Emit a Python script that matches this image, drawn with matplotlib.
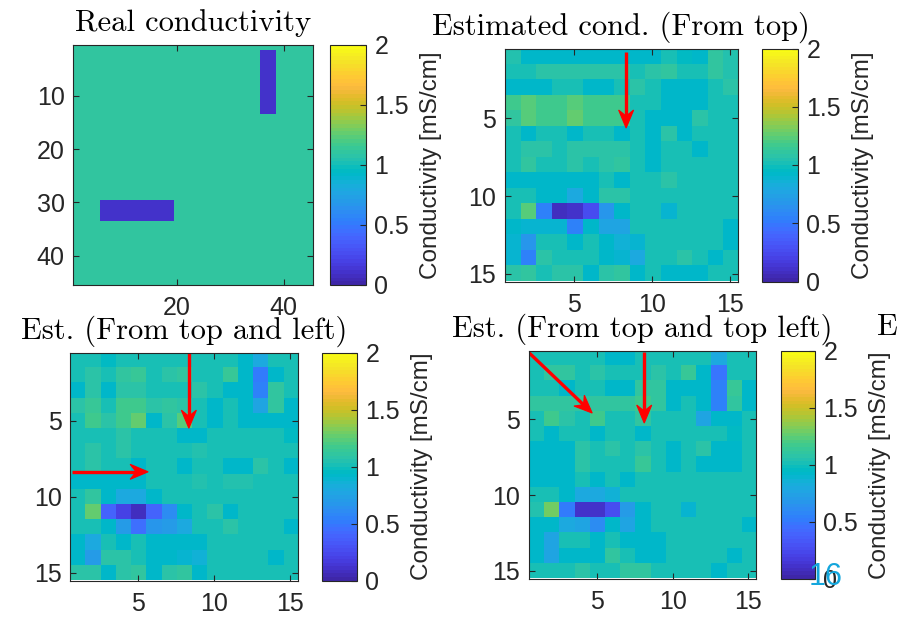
import numpy as np
import matplotlib
matplotlib.use("Agg")
import matplotlib.pyplot as plt
from matplotlib.colors import ListedColormap
from matplotlib.patches import Polygon

# MATLAB parula (R2017a), 64 entries
parula_rgb = [
    [0.2422, 0.1504, 0.6603], [0.2504, 0.1650, 0.7076], [0.2578, 0.1818, 0.7511], [0.2647, 0.1978, 0.7952],
    [0.2706, 0.2147, 0.8364], [0.2751, 0.2342, 0.8710], [0.2783, 0.2559, 0.8991], [0.2803, 0.2782, 0.9221],
    [0.2813, 0.3006, 0.9414], [0.2810, 0.3228, 0.9579], [0.2795, 0.3447, 0.9717], [0.2760, 0.3667, 0.9829],
    [0.2699, 0.3892, 0.9906], [0.2602, 0.4123, 0.9952], [0.2440, 0.4358, 0.9988], [0.2206, 0.4603, 0.9973],
    [0.1963, 0.4847, 0.9892], [0.1834, 0.5074, 0.9798], [0.1786, 0.5289, 0.9682], [0.1764, 0.5499, 0.9520],
    [0.1687, 0.5703, 0.9359], [0.1540, 0.5902, 0.9218], [0.1460, 0.6091, 0.9079], [0.1380, 0.6276, 0.8973],
    [0.1248, 0.6459, 0.8883], [0.1113, 0.6635, 0.8763], [0.0952, 0.6798, 0.8598], [0.0689, 0.6948, 0.8394],
    [0.0297, 0.7082, 0.8163], [0.0036, 0.7203, 0.7917], [0.0067, 0.7312, 0.7660], [0.0433, 0.7411, 0.7394],
    [0.0964, 0.7500, 0.7120], [0.1408, 0.7584, 0.6842], [0.1717, 0.7670, 0.6554], [0.1938, 0.7758, 0.6251],
    [0.2161, 0.7843, 0.5923], [0.2470, 0.7918, 0.5567], [0.2906, 0.7973, 0.5188], [0.3406, 0.8008, 0.4789],
    [0.3909, 0.8029, 0.4354], [0.4456, 0.8024, 0.3909], [0.5044, 0.7993, 0.3480], [0.5616, 0.7942, 0.3045],
    [0.6174, 0.7876, 0.2612], [0.6720, 0.7793, 0.2227], [0.7242, 0.7698, 0.1910], [0.7738, 0.7598, 0.1646],
    [0.8203, 0.7498, 0.1535], [0.8634, 0.7406, 0.1596], [0.9035, 0.7330, 0.1774], [0.9393, 0.7288, 0.2100],
    [0.9728, 0.7298, 0.2394], [0.9956, 0.7434, 0.2371], [0.9970, 0.7659, 0.2199], [0.9952, 0.7893, 0.2028],
    [0.9892, 0.8136, 0.1885], [0.9786, 0.8386, 0.1766], [0.9676, 0.8639, 0.1643], [0.9610, 0.8890, 0.1537],
    [0.9597, 0.9135, 0.1423], [0.9628, 0.9373, 0.1265], [0.9691, 0.9606, 0.1064], [0.9769, 0.9839, 0.0805],
]
parula = ListedColormap(parula_rgb, name="parula")

# real conductivity: 45x45 grid, background plus two inclusions (rows, cols, 1-based inclusive)
real_size = 45
real_background = 1.12
inclusion_value = 0.1
inclusions = [((30, 33), (6, 19)), ((2, 13), (36, 38))]

# estimates on a 15x15 grid [mS/cm]
est_top = [
    [1.05, 0.93, 0.93, 0.93, 0.93, 0.93, 0.93, 0.93, 0.93, 0.93, 1.02, 0.96, 0.92, 1.10, 1.05],
    [1.03, 1.03, 1.07, 1.07, 1.07, 1.07, 1.07, 1.07, 1.03, 1.07, 1.10, 1.03, 1.03, 1.10, 1.05],
    [0.93, 0.93, 0.93, 1.03, 1.03, 0.93, 0.93, 1.03, 1.07, 1.03, 0.93, 0.91, 0.91, 1.03, 1.07],
    [1.18, 1.22, 1.18, 1.18, 1.22, 1.18, 1.18, 1.18, 1.03, 1.03, 0.93, 0.93, 0.93, 1.03, 1.03],
    [1.10, 1.22, 1.18, 1.18, 1.25, 1.18, 1.18, 1.18, 1.03, 0.91, 0.93, 0.93, 1.07, 1.03, 1.03],
    [1.03, 0.91, 1.03, 1.03, 0.92, 1.03, 1.03, 0.93, 1.03, 0.91, 1.07, 0.93, 1.03, 1.03, 1.03],
    [1.03, 1.07, 1.07, 1.03, 1.07, 1.07, 1.07, 1.07, 1.03, 0.92, 1.03, 1.03, 0.93, 1.03, 1.03],
    [1.03, 1.10, 1.03, 1.03, 1.07, 1.03, 1.07, 1.10, 1.03, 0.92, 1.03, 1.03, 1.03, 1.03, 1.03],
    [0.93, 0.92, 0.93, 0.93, 0.92, 0.93, 1.03, 0.92, 1.03, 1.03, 1.07, 1.03, 1.03, 1.03, 1.03],
    [1.03, 1.03, 0.93, 0.93, 0.80, 0.93, 1.07, 1.07, 1.03, 1.03, 1.03, 1.03, 1.03, 1.03, 1.03],
    [1.03, 1.22, 0.56, 0.08, 0.10, 0.25, 0.68, 0.93, 1.03, 1.03, 0.90, 1.03, 1.03, 1.03, 1.03],
    [0.93, 0.90, 0.90, 0.90, 0.56, 0.93, 0.75, 0.75, 1.03, 1.03, 1.03, 1.03, 1.03, 1.03, 0.93],
    [0.90, 0.68, 1.03, 1.03, 0.93, 1.03, 0.93, 0.86, 0.90, 1.03, 1.03, 1.03, 1.03, 1.03, 0.93],
    [0.90, 0.56, 1.07, 1.03, 1.03, 1.03, 0.93, 0.90, 0.80, 1.03, 1.03, 1.07, 1.03, 0.93, 1.03],
    [1.07, 1.10, 1.03, 1.07, 1.07, 0.93, 1.07, 1.12, 0.93, 1.03, 0.93, 0.93, 0.93, 1.03, 1.03],
]

est_top_left = [
    [1.03, 1.03, 0.96, 1.03, 1.03, 1.03, 1.03, 1.03, 1.03, 1.03, 1.03, 0.93, 0.80, 1.03, 1.03],
    [1.03, 1.07, 1.03, 1.10, 1.15, 1.03, 1.07, 1.12, 1.03, 1.03, 1.15, 0.92, 0.50, 0.93, 1.03],
    [0.93, 1.07, 0.93, 1.07, 1.07, 1.03, 1.03, 1.03, 1.07, 1.03, 0.93, 0.93, 0.56, 1.10, 1.03],
    [1.07, 1.15, 1.03, 1.18, 1.18, 1.07, 1.10, 1.07, 1.03, 0.93, 1.03, 0.93, 0.75, 1.10, 0.93],
    [1.03, 1.18, 1.07, 1.18, 1.28, 0.93, 1.07, 1.22, 1.03, 0.93, 1.03, 0.93, 0.93, 0.93, 0.93],
    [1.03, 1.03, 1.03, 1.07, 1.03, 1.03, 1.03, 0.93, 0.93, 1.03, 1.03, 1.03, 1.03, 1.03, 0.96],
    [1.03, 1.07, 1.03, 1.07, 1.03, 1.03, 1.03, 1.03, 1.05, 1.03, 1.03, 1.03, 1.03, 1.03, 1.03],
    [1.03, 1.07, 1.03, 1.03, 0.91, 1.03, 1.03, 0.91, 1.03, 1.03, 0.91, 0.93, 1.07, 1.03, 0.93],
    [0.93, 0.93, 0.93, 0.93, 0.93, 1.03, 1.03, 1.03, 1.05, 1.03, 1.05, 1.05, 1.03, 1.03, 1.03],
    [1.03, 1.10, 0.91, 0.80, 0.80, 0.91, 1.03, 1.03, 1.03, 1.03, 1.03, 1.03, 1.03, 1.03, 1.03],
    [1.03, 1.28, 0.38, 0.20, 0.07, 0.38, 0.60, 0.93, 1.03, 1.07, 0.91, 1.03, 1.03, 1.03, 1.03],
    [1.03, 1.03, 0.93, 0.70, 0.45, 0.66, 0.70, 0.80, 1.03, 1.03, 1.07, 1.03, 1.03, 1.03, 0.93],
    [0.93, 0.80, 1.03, 0.93, 1.03, 0.93, 0.92, 0.93, 0.93, 1.03, 1.03, 1.03, 1.03, 1.03, 1.03],
    [0.92, 0.70, 1.07, 1.07, 1.03, 0.93, 0.93, 0.90, 0.86, 1.03, 1.03, 1.03, 1.03, 0.93, 1.03],
    [1.07, 1.07, 0.93, 1.07, 1.10, 0.93, 1.07, 1.12, 0.93, 1.03, 1.03, 1.03, 1.03, 1.03, 1.03],
]

est_top_diag = [
    [1.03, 1.03, 1.03, 1.03, 1.03, 0.93, 0.93, 1.03, 1.03, 1.03, 1.03, 1.03, 0.80, 1.03, 1.03],
    [1.03, 1.10, 1.10, 1.03, 1.07, 1.03, 1.03, 1.03, 1.07, 1.03, 1.15, 0.91, 0.48, 1.03, 1.03],
    [1.03, 1.03, 0.93, 1.03, 1.03, 0.93, 0.93, 1.10, 1.10, 0.93, 0.93, 0.91, 0.56, 1.15, 0.93],
    [1.10, 1.10, 1.10, 1.10, 1.10, 1.10, 1.12, 1.18, 1.10, 0.93, 1.03, 0.93, 0.56, 1.10, 0.93],
    [1.03, 1.18, 1.07, 1.03, 1.18, 1.03, 1.03, 1.10, 1.03, 1.03, 1.03, 0.75, 0.91, 0.93, 1.03],
    [1.03, 0.91, 1.03, 1.03, 0.93, 1.03, 1.03, 0.91, 1.03, 1.03, 1.03, 1.03, 1.03, 0.96, 1.03],
    [0.93, 0.93, 0.93, 1.07, 1.03, 1.07, 1.03, 1.07, 1.03, 0.91, 1.03, 1.07, 0.93, 0.93, 1.03],
    [0.93, 0.93, 0.93, 1.07, 1.03, 1.03, 1.03, 1.15, 1.03, 0.93, 1.03, 0.93, 0.93, 0.93, 1.03],
    [0.93, 0.91, 0.93, 1.03, 0.91, 1.03, 0.93, 1.03, 1.03, 1.03, 1.03, 1.03, 1.03, 1.03, 1.03],
    [1.03, 1.03, 0.93, 0.80, 0.80, 0.86, 1.03, 1.03, 1.03, 1.03, 1.03, 1.03, 1.03, 1.03, 1.03],
    [1.05, 1.30, 0.50, 0.12, 0.10, 0.25, 0.70, 0.93, 1.03, 1.03, 0.90, 1.03, 1.03, 1.03, 1.03],
    [0.93, 0.93, 0.80, 0.75, 0.60, 0.93, 0.75, 0.93, 1.03, 1.03, 1.03, 1.03, 1.03, 1.03, 0.93],
    [0.93, 0.75, 1.03, 1.03, 0.93, 1.03, 0.93, 0.93, 0.93, 1.03, 1.03, 1.03, 1.03, 1.03, 1.03],
    [0.93, 0.75, 0.93, 0.93, 0.92, 1.10, 1.03, 0.91, 0.91, 1.03, 1.03, 1.03, 1.03, 0.93, 1.03],
    [1.03, 1.03, 1.03, 1.07, 1.03, 1.03, 1.10, 1.10, 1.03, 1.03, 1.03, 1.03, 0.93, 1.03, 1.03],
]

titles = ["Real conductivity", "Estimated cond. (From top)",
          "Est. (From top and left)", "Est. (From top and top left)"]
cbar_ticks = [0, 0.5, 1, 1.5, 2]
cbar_ticklabels = ["0", "0.5", "1", "1.5", "2"]
cbar_label = "Conductivity [mS/cm]"

# arrows (tail -> head) in data coords of each estimate panel
arrows = {
    1: [((8.33, 0.74), (8.33, 5.62))],
    2: [((8.32, 0.55), (8.32, 5.48)), ((0.63, 8.35), (5.64, 8.35))],
    3: [((0.55, 0.63), (4.70, 4.59)), ((8.13, 0.57), (8.13, 5.25))],
}

W, H = 905, 619
sans = "Liberation Sans"
serif = "cmr10"
ink = "#262626"


def px_box(left, top, right, bottom):
    return [left / W, 1 - bottom / H, (right - left) / W, (bottom - top) / H]


def draw_arrow(ax, tail, head, px_size):
    # matlab style arrow with a notched head; sizes in pixels
    tail = np.array(tail)
    head = np.array(head)
    u = (head - tail) / np.hypot(*(head - tail))
    v = np.array([-u[1], u[0]])
    length, half_w, notch = 18 * px_size, 7.5 * px_size, 6 * px_size
    back = head - length * u
    inner = head - (length - notch) * u
    ax.plot([tail[0], inner[0]], [tail[1], inner[1]], color="red", lw=2.4,
            solid_capstyle="butt")
    ax.add_patch(Polygon([head, back + half_w * v, inner, back - half_w * v],
                         closed=True, facecolor="red", edgecolor="red", lw=0.8))


# axes / colorbar boxes in pixels (left, top, right, bottom)
axes_px = [(73, 45, 313, 285), (504.5, 48.5, 737.5, 281.5),
           (70, 352.5, 298, 580.5), (528.5, 351, 756, 578.5)]
cbar_px = [(330, 45, 366, 285), (762, 48.5, 798, 281.5),
           (322, 352.5, 357, 580.5), (780.5, 351, 815, 578.5)]

real = np.full((real_size, real_size), real_background)
for (r0, r1), (c0, c1) in inclusions:
    real[r0 - 1:r1, c0 - 1:c1] = inclusion_value

panels = [real, np.array(est_top), np.array(est_top_left), np.array(est_top_diag)]

fig = plt.figure(figsize=(W / 100, H / 100), dpi=100)

for i, data in enumerate(panels):
    box = axes_px[i]
    ax = fig.add_axes(px_box(*box))
    n = data.shape[0]
    im = ax.imshow(data, cmap=parula, vmin=0, vmax=2, aspect="auto",
                   interpolation="nearest", extent=(0.5, n + 0.5, n + 0.5, 0.5))
    ax.set_xlim(0.5, n + 0.5)
    ax.set_ylim(n + 0.5, 0.5)
    if i == 0:
        ax.set_xticks([20, 40])
        ax.set_yticks([10, 20, 30, 40])
    else:
        ax.set_xticks([5, 10, 15])
        ax.set_yticks([5, 10, 15])
    ax.tick_params(direction="in", top=True, right=True, length=4, width=0.8,
                   color=ink, labelcolor=ink, labelsize=18)
    ax.tick_params(axis="x", pad=8)
    ax.tick_params(axis="y", pad=6)
    for lab in ax.get_xticklabels() + ax.get_yticklabels():
        lab.set_fontfamily(sans)
    for sp in ax.spines.values():
        sp.set_color(ink)
        sp.set_linewidth(0.8)
    ax.set_title(titles[i], fontfamily=serif, fontsize=22, pad=10, color="black")

    px_size = n / (box[2] - box[0])
    for tail, head in arrows.get(i, []):
        draw_arrow(ax, tail, head, px_size)

    cax = fig.add_axes(px_box(*cbar_px[i]))
    cb = fig.colorbar(im, cax=cax, ticks=cbar_ticks)
    cb.ax.set_yticklabels(cbar_ticklabels)
    cb.ax.tick_params(direction="in", length=4, width=0.8, color=ink,
                      labelcolor=ink, labelsize=18, pad=6)
    for lab in cb.ax.get_yticklabels():
        lab.set_fontfamily(sans)
    cb.outline.set_edgecolor(ink)
    cb.outline.set_linewidth(0.8)
    cb.set_label(cbar_label, fontfamily=sans, fontsize=17.5, color=ink, labelpad=8)

# cut-off title of a further panel and the slide number
fig.text(877 / W, 1 - 335 / H, "E", fontfamily=serif, fontsize=22, color="black",
         ha="left", va="baseline")
fig.text(826 / W, 1 - 585 / H, "16", fontfamily=sans, fontsize=22, color="#14a6dc",
         ha="center", va="baseline")

fig.savefig("out.png", dpi=100)
